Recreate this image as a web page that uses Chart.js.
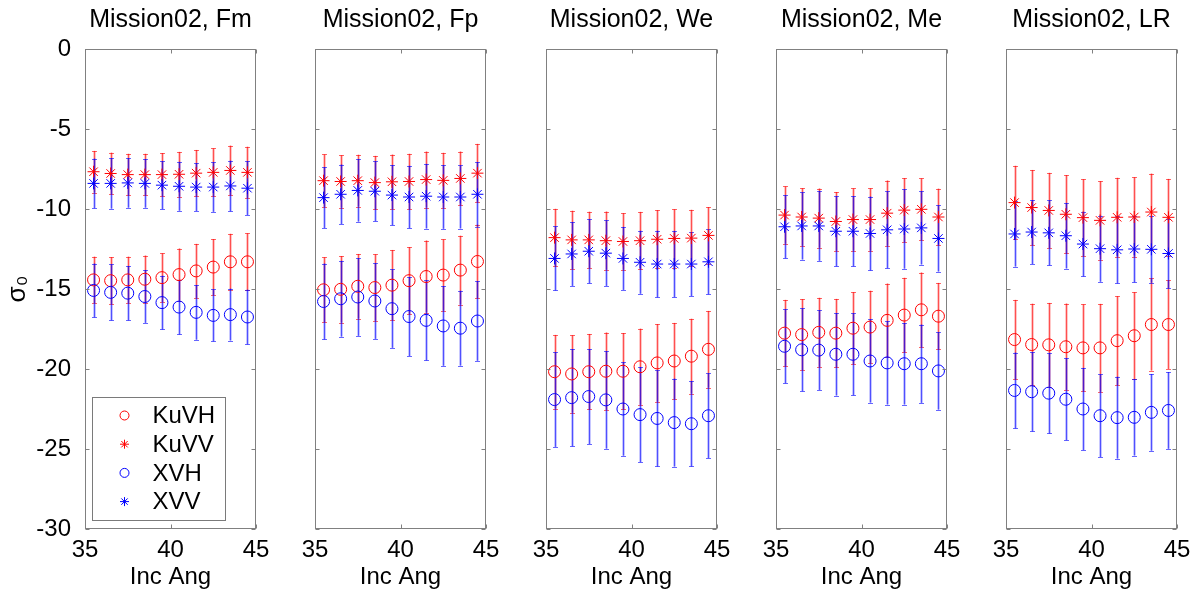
<!DOCTYPE html>
<html>
<head>
<meta charset="utf-8">
<script src="https://cdn.jsdelivr.net/npm/chart.js@4.4.1/dist/chart.umd.min.js"></script>
<style>
  html, body { margin: 0; padding: 0; background: #ffffff; }
  #wrap { position: relative; width: 1200px; height: 593px; overflow: hidden; }
  canvas { position: absolute; top: 0; }
</style>
</head>
<body>
<div id="wrap"></div>
<script>
// ---------------- data ----------------
const incAng = [35.5, 36.5, 37.5, 38.5, 39.5, 40.5, 41.5, 42.5, 43.5, 44.5];
const panelNames = ['Fm', 'Fp', 'We', 'Me', 'LR'];
const seriesLabels = ['KuVH', 'KuVV', 'XVH', 'XVV'];
const xTicks = [35, 40, 45];
const yTicks = [0, -5, -10, -15, -20, -25, -30];

// Fm
const fm_KuVH = [-14.43, -14.48, -14.43, -14.39, -14.29, -14.10, -13.87, -13.63, -13.30, -13.30];
const fm_KuVH_err = [1.45, 1.47, 1.45, 1.48, 1.52, 1.63, 1.69, 1.75, 1.75, 1.78];
const fm_KuVV = [-7.67, -7.78, -7.85, -7.85, -7.85, -7.83, -7.76, -7.71, -7.59, -7.71];
const fm_KuVV_err = [1.30, 1.30, 1.30, 1.30, 1.35, 1.40, 1.45, 1.50, 1.55, 1.60];
const fm_XVH = [-15.09, -15.21, -15.26, -15.47, -15.85, -16.13, -16.46, -16.65, -16.60, -16.75];
const fm_XVH_err = [1.68, 1.75, 1.70, 1.65, 1.68, 1.71, 1.71, 1.62, 1.62, 1.71];
const fm_XVV = [-8.40, -8.40, -8.37, -8.40, -8.51, -8.58, -8.63, -8.63, -8.56, -8.70];
const fm_XVV_err = [1.55, 1.58, 1.55, 1.52, 1.50, 1.53, 1.50, 1.55, 1.58, 1.68];

// Fp
const fp_KuVH = [-15.05, -15.02, -14.83, -14.91, -14.76, -14.48, -14.22, -14.13, -13.82, -13.28];
const fp_KuVH_err = [2.03, 2.08, 2.02, 2.08, 2.20, 2.10, 2.25, 2.23, 2.15, 2.30];
const fp_KuVV = [-8.23, -8.28, -8.23, -8.35, -8.30, -8.28, -8.16, -8.21, -8.09, -7.76];
const fp_KuVV_err = [1.64, 1.64, 1.62, 1.67, 1.70, 1.73, 1.75, 1.72, 1.68, 1.83];
const fp_XVH = [-15.78, -15.61, -15.50, -15.75, -16.23, -16.72, -16.96, -17.31, -17.45, -17.00];
const fp_XVH_err = [2.37, 2.37, 2.43, 2.37, 2.45, 2.47, 2.50, 2.49, 2.34, 2.49];
const fp_XVV = [-9.29, -9.08, -8.84, -8.89, -9.13, -9.25, -9.20, -9.25, -9.25, -9.08];
const fp_XVV_err = [1.90, 1.86, 1.95, 1.87, 1.88, 1.95, 2.02, 1.99, 1.97, 2.02];

// We
const we_KuVH = [-20.17, -20.31, -20.17, -20.14, -20.14, -19.86, -19.62, -19.50, -19.20, -18.77];
const we_KuVH_err = [2.30, 2.42, 2.36, 2.42, 2.39, 2.38, 2.43, 2.38, 2.34, 2.40];
const we_KuVV = [-11.79, -11.93, -11.93, -11.98, -12.03, -11.98, -11.89, -11.84, -11.82, -11.65];
const we_KuVV_err = [1.80, 1.82, 1.76, 1.82, 1.77, 1.80, 1.82, 1.82, 1.77, 1.77];
const we_XVH = [-21.91, -21.79, -21.72, -21.93, -22.50, -22.85, -23.09, -23.35, -23.42, -22.92];
const we_XVH_err = [2.96, 3.04, 2.97, 3.05, 2.92, 2.97, 3.00, 2.75, 2.67, 2.65];
const we_XVV = [-13.09, -12.81, -12.64, -12.76, -13.09, -13.33, -13.44, -13.44, -13.44, -13.30];
const we_XVV_err = [2.00, 2.00, 2.00, 2.05, 1.97, 1.97, 2.08, 2.07, 2.00, 2.03];

// Me
const me_KuVH = [-17.76, -17.85, -17.71, -17.76, -17.45, -17.38, -16.96, -16.63, -16.30, -16.70];
const me_KuVH_err = [2.08, 2.22, 2.16, 2.14, 2.25, 2.27, 2.30, 2.33, 2.33, 2.08];
const me_KuVV = [-10.38, -10.50, -10.57, -10.78, -10.66, -10.66, -10.26, -10.07, -10.02, -10.50];
const me_KuVV_err = [1.79, 1.80, 1.85, 1.84, 1.95, 1.95, 2.04, 2.00, 1.93, 1.77];
const me_XVH = [-18.58, -18.80, -18.82, -19.08, -19.08, -19.50, -19.62, -19.67, -19.67, -20.12];
const me_XVH_err = [2.31, 2.59, 2.49, 2.58, 2.56, 2.60, 2.60, 2.55, 2.45, 2.42];
const me_XVV = [-11.11, -11.06, -11.06, -11.39, -11.39, -11.53, -11.30, -11.25, -11.18, -11.84];
const me_XVV_err = [1.97, 2.10, 2.18, 2.19, 2.19, 2.31, 2.40, 2.48, 2.29, 2.07];

// LR
const lr_KuVH = [-18.16, -18.47, -18.49, -18.61, -18.68, -18.68, -18.23, -17.92, -17.22, -17.22];
const lr_KuVH_err = [2.48, 2.55, 2.62, 2.70, 2.72, 2.75, 2.78, 2.72, 2.88, 2.78];
const lr_KuVV = [-9.60, -9.91, -10.09, -10.33, -10.54, -10.71, -10.52, -10.50, -10.19, -10.52];
const lr_KuVV_err = [2.30, 2.35, 2.35, 2.45, 2.40, 2.45, 2.47, 2.48, 2.40, 2.40];
const lr_XVH = [-21.34, -21.42, -21.51, -21.89, -22.50, -22.92, -23.04, -23.02, -22.71, -22.59];
const lr_XVH_err = [2.37, 2.48, 2.52, 2.56, 2.57, 2.58, 2.56, 2.39, 2.40, 2.40];
const lr_XVV = [-11.56, -11.44, -11.49, -11.67, -12.19, -12.48, -12.55, -12.50, -12.52, -12.78];
const lr_XVV_err = [2.04, 2.00, 2.03, 2.05, 2.02, 2.07, 2.10, 2.08, 2.09, 2.18];

const panelMeans = [
  [fm_KuVH, fm_KuVV, fm_XVH, fm_XVV],
  [fp_KuVH, fp_KuVV, fp_XVH, fp_XVV],
  [we_KuVH, we_KuVV, we_XVH, we_XVV],
  [me_KuVH, me_KuVV, me_XVH, me_XVV],
  [lr_KuVH, lr_KuVV, lr_XVH, lr_XVV]
];
const panelErrs = [
  [fm_KuVH_err, fm_KuVV_err, fm_XVH_err, fm_XVV_err],
  [fp_KuVH_err, fp_KuVV_err, fp_XVH_err, fp_XVV_err],
  [we_KuVH_err, we_KuVV_err, we_XVH_err, we_XVV_err],
  [me_KuVH_err, me_KuVV_err, me_XVH_err, me_XVV_err],
  [lr_KuVH_err, lr_KuVV_err, lr_XVH_err, lr_XVV_err]
];

// ---------------- styles ----------------
const seriesRGB = ['255,0,0', '255,0,0', '0,0,255', '0,0,255'];
const seriesStyle = ['circle', 'star', 'circle', 'star'];
const seriesRadius = [6, 6, 6, 6];
const FONT = "'Liberation Sans', Arial, Helvetica, sans-serif";
const AXIS_COLOR = '#808080';

Chart.defaults.font.family = FONT;
Chart.defaults.color = '#000000';

function markPoint(ctx, style, r, x, y, color) {
  ctx.save();
  ctx.strokeStyle = color;
  ctx.lineWidth = 1;
  ctx.beginPath();
  if (style === 'circle') {
    ctx.arc(x, y, r, 0, Math.PI * 2);
  } else {
    const d = r * Math.SQRT1_2;
    ctx.moveTo(x - r, y); ctx.lineTo(x + r, y);
    ctx.moveTo(x, y - r); ctx.lineTo(x, y + r);
    ctx.moveTo(x - d, y - d); ctx.lineTo(x + d, y + d);
    ctx.moveTo(x - d, y + d); ctx.lineTo(x + d, y - d);
  }
  ctx.stroke();
  ctx.restore();
}

const errorBarPlugin = {
  id: 'errorBarPlugin',
  beforeDatasetsDraw(chart) {
    const { ctx, scales: { x, y } } = chart;
    ctx.save();
    chart.data.datasets.forEach((ds) => {
      ds.data.forEach((p, j) => {
        const e = ds.errors[j];
        const px = Math.round(x.getPixelForValue(p.x)) + 0.5;
        const y1 = y.getPixelForValue(p.y + e);
        const y2 = y.getPixelForValue(p.y - e);
        ctx.strokeStyle = 'rgba(' + ds.rgb + ',0.22)';
        ctx.lineWidth = 3;
        ctx.beginPath();
        ctx.moveTo(px, y1); ctx.lineTo(px, y2);
        ctx.stroke();
        ctx.strokeStyle = 'rgba(' + ds.rgb + ',0.6)';
        ctx.lineWidth = 1;
        ctx.beginPath();
        ctx.moveTo(px, y1); ctx.lineTo(px, y2);
        ctx.moveTo(px - 2.5, Math.round(y1) + 0.5); ctx.lineTo(px + 2.5, Math.round(y1) + 0.5);
        ctx.moveTo(px - 2.5, Math.round(y2) + 0.5); ctx.lineTo(px + 2.5, Math.round(y2) + 0.5);
        ctx.stroke();
      });
    });
    ctx.restore();
  }
};

const boxPlugin = {
  id: 'boxPlugin',
  afterDatasetsDraw(chart) {
    const { ctx, chartArea: a, scales: { x, y } } = chart;
    ctx.save();
    ctx.strokeStyle = AXIS_COLOR;
    ctx.lineWidth = 1;
    const L = Math.round(a.left) + 0.5, R = Math.round(a.right) - 0.5;
    const T = Math.round(a.top) + 0.5, B = Math.round(a.bottom) - 0.5;
    ctx.beginPath();
    yTicks.forEach(v => {
      const py = Math.round(y.getPixelForValue(v)) + 0.5;
      ctx.moveTo(L, py); ctx.lineTo(L + 4, py);
      ctx.moveTo(R, py); ctx.lineTo(R - 4, py);
    });
    xTicks.forEach(v => {
      const px = Math.round(x.getPixelForValue(v)) + 0.5;
      ctx.moveTo(px, B); ctx.lineTo(px, B - 4);
      ctx.moveTo(px, T); ctx.lineTo(px, T + 4);
    });
    ctx.stroke();
    ctx.strokeRect(L, T, R - L, B - T);
    ctx.restore();
  }
};

const legendPlugin = {
  id: 'legendPlugin',
  afterDraw(chart) {
    if (!chart.options.plugins.legendPlugin || !chart.options.plugins.legendPlugin.show) return;
    const { ctx, chartArea: a } = chart;
    const bx = Math.round(a.left) + 7.5, bw = 133;
    const bh = 123, by = Math.round(a.bottom) - 8.5 - bh;
    ctx.save();
    ctx.fillStyle = '#ffffff';
    ctx.fillRect(bx, by, bw, bh);
    ctx.strokeStyle = '#7a7a7a';
    ctx.lineWidth = 1;
    ctx.strokeRect(bx, by, bw, bh);
    ctx.font = '24px ' + FONT;
    ctx.textBaseline = 'middle';
    ctx.textAlign = 'left';
    chart.data.datasets.forEach((ds, i) => {
      const cy = by + 18 + i * 28.7;
      markPoint(ctx, ds.pointStyle, ds.pointStyle === 'circle' ? 4.5 : 4.5, bx + 32, cy, 'rgb(' + ds.rgb + ')');
      ctx.fillStyle = '#000000';
      ctx.fillText(ds.label, bx + 60, cy + 1);
    });
    ctx.restore();
  }
};

// ---------------- layout ----------------
const wrap = document.getElementById('wrap');
const PANEL_W = 171;
const LEFT0 = 85;
const PITCH = 230.3;
const PAD_SIDE = 22;

panelNames.forEach((name, i) => {
  const areaLeft = Math.round(LEFT0 + i * PITCH);
  const canvasLeft = i === 0 ? 0 : areaLeft - PAD_SIDE;
  const canvasW = (areaLeft - canvasLeft) + PANEL_W + PAD_SIDE;
  const cv = document.createElement('canvas');
  cv.width = canvasW; cv.height = 593;
  cv.style.left = canvasLeft + 'px';
  cv.style.width = canvasW + 'px';
  cv.style.height = '593px';
  wrap.appendChild(cv);

  const datasets = seriesLabels.map((lab, s) => ({
    label: lab,
    data: incAng.map((xv, j) => ({ x: xv, y: panelMeans[i][s][j] })),
    errors: panelErrs[i][s],
    rgb: seriesRGB[s],
    pointStyle: seriesStyle[s],
    pointRadius: seriesRadius[s],
    pointBorderWidth: 1,
    borderColor: 'rgb(' + seriesRGB[s] + ')',
    backgroundColor: 'rgba(0,0,0,0)',
    showLine: false,
    order: 4 - s
  }));

  new Chart(cv, {
    type: 'scatter',
    data: { datasets },
    plugins: [errorBarPlugin, boxPlugin, legendPlugin],
    options: {
      responsive: false,
      animation: false,
      events: [],
      devicePixelRatio: window.devicePixelRatio || 1,
      layout: { padding: { left: i === 0 ? 0 : PAD_SIDE, right: PAD_SIDE, top: 0, bottom: 0 } },
      plugins: {
        legend: { display: false },
        tooltip: { enabled: false },
        legendPlugin: { show: i === 0 },
        title: {
          display: true,
          text: 'Mission02, ' + name,
          fullSize: false,
          color: '#000000',
          font: { size: 25, weight: 'normal', family: FONT },
          padding: { top: 5, bottom: 14 }
        }
      },
      scales: {
        x: {
          type: 'linear',
          min: 35, max: 45,
          afterBuildTicks(s) { s.ticks = xTicks.map(v => ({ value: v })); },
          afterFit(s) { s.height = 64; },
          grid: { display: false },
          border: { display: false },
          ticks: { color: '#000000', font: { size: 24, family: FONT }, padding: -1, maxRotation: 0 },
          title: { display: true, text: 'Inc Ang', color: '#000000', font: { size: 24, family: FONT }, padding: { top: 0, bottom: 1 } }
        },
        y: {
          type: 'linear',
          min: -30, max: 0,
          afterBuildTicks(s) { s.ticks = yTicks.map(v => ({ value: v })); },
          afterFit(s) { s.width = i === 0 ? LEFT0 : 0; },
          grid: { display: false },
          border: { display: false },
          ticks: { display: i === 0, color: '#000000', font: { size: 24, family: FONT }, padding: 6 },
          title: { display: i === 0, text: 'σ₀', color: '#000000', font: { size: 26, family: FONT }, padding: { top: 2, bottom: 0 } }
        }
      }
    }
  });
});
</script>
</body>
</html>
